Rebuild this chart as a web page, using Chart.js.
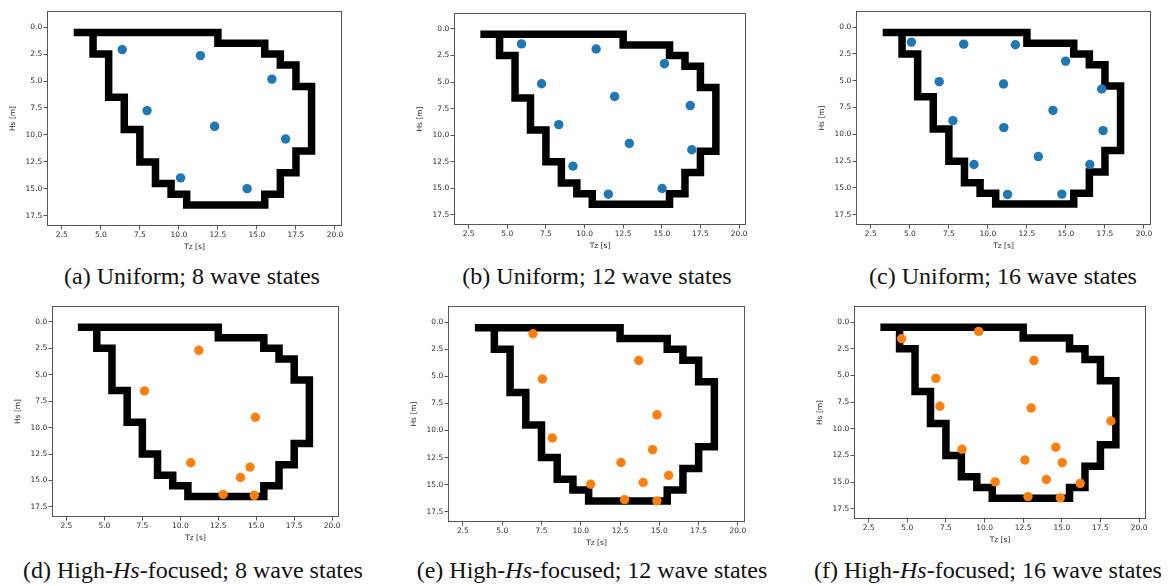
<!DOCTYPE html>
<html>
<head>
<meta charset="utf-8">
<title>Wave state selection</title>
<script src="https://cdn.jsdelivr.net/npm/chart.js@4.4.1/dist/chart.umd.min.js"></script>
<style>
  html, body { margin: 0; padding: 0; background: #fff; }
  #fig { position: relative; width: 1175px; height: 586px; overflow: hidden; }
  #fig canvas { position: absolute; }
  .caption {
    position: absolute; width: 440px; text-align: center; white-space: nowrap;
    font: 24px/24px 'Liberation Serif', 'Times New Roman', serif; color: #111;
  }
</style>
</head>
<body>
<div id="fig"></div>
<script>
'use strict';

// Tick values shared by every panel
const tzTicks = [2.5, 5.0, 7.5, 10.0, 12.5, 15.0, 17.5, 20.0];
const hsTicks = [0.0, 2.5, 5.0, 7.5, 10.0, 12.5, 15.0, 17.5];

// Stepped environmental contour (Tz, Hs vertices)
const contourTz = [3.5, 12.5, 12.5, 15.5, 15.5, 16.5, 16.5, 17.5, 17.5, 18.5, 18.5, 17.5, 17.5, 16.5, 16.5, 15.5,
                   15.5, 10.5, 10.5, 9.5, 9.5, 8.5, 8.5, 7.5, 7.5, 6.5, 6.5, 5.5, 5.5, 4.5, 4.5];
const contourHs = [0.5, 0.5, 1.5, 1.5, 2.5, 2.5, 3.5, 3.5, 5.5, 5.5, 11.5, 11.5, 13.5, 13.5, 15.5, 15.5,
                   16.5, 16.5, 15.5, 15.5, 14.5, 14.5, 12.5, 12.5, 9.5, 9.5, 6.5, 6.5, 2.5, 2.5, 0.5];

// Selected wave states
const uniform8Tz = [6.37, 11.38, 15.96, 7.96, 12.29, 16.84, 10.11, 14.37];
const uniform8Hs = [2.08, 2.64, 4.82, 7.74, 9.20, 10.38, 13.98, 14.98];

const uniform12Tz = [5.92, 10.75, 15.17, 7.22, 11.95, 16.84, 8.33, 12.90, 16.94, 9.25, 15.02, 11.54];
const uniform12Hs = [1.41, 1.89, 3.27, 5.16, 6.36, 7.21, 9.00, 10.77, 11.37, 12.91, 15.02, 15.55];

const uniform16Tz = [5.10, 8.45, 11.76, 14.98, 6.88, 11.00, 17.29, 14.17, 7.76, 11.02, 17.38, 13.23, 9.11, 16.53, 11.26, 14.74];
const uniform16Hs = [1.40, 1.59, 1.65, 3.17, 5.09, 5.31, 5.77, 7.76, 8.72, 9.37, 9.65, 12.07, 12.81, 12.81, 15.60, 15.57];

const highHs8Tz = [11.22, 7.64, 14.94, 10.69, 14.59, 13.96, 12.82, 14.87];
const highHs8Hs = [2.69, 6.54, 9.02, 13.32, 13.73, 14.72, 16.31, 16.40];

const highHs12Tz = [6.96, 13.69, 7.56, 14.85, 8.19, 14.57, 12.56, 15.59, 10.63, 13.97, 12.79, 14.85];
const highHs12Hs = [1.06, 3.53, 5.24, 8.55, 10.69, 11.77, 12.95, 14.15, 14.96, 14.80, 16.38, 16.50];

const highHs16Tz = [4.63, 9.62, 13.20, 6.85, 13.02, 7.11, 18.18, 8.54, 14.61, 12.61, 15.03, 14.00, 10.69, 16.19, 12.81, 14.90];
const highHs16Hs = [1.57, 0.88, 3.61, 5.28, 8.05, 7.89, 9.27, 11.92, 11.73, 12.92, 13.17, 14.75, 14.97, 15.12, 16.35, 16.47];

const BLUE = '#1f77b4';
const ORANGE = '#ff7f0e';

// plot frame (left, top, right, bottom) and caption placement for each panel
const panels = [
    { tz: uniform8Tz,  hs: uniform8Hs,  color: BLUE,   frame: [47, 11, 342, 226],   capX: 192, capY: 284,
      caption: '(a) Uniform; 8 wave states' },
    { tz: uniform12Tz, hs: uniform12Hs, color: BLUE,   frame: [454, 13, 746, 225],  capX: 597, capY: 284,
      caption: '(b) Uniform; 12 wave states' },
    { tz: uniform16Tz, hs: uniform16Hs, color: BLUE,   frame: [856, 11, 1151, 225], capX: 1003, capY: 284,
      caption: '(c) Uniform; 16 wave states' },
    { tz: highHs8Tz,   hs: highHs8Hs,   color: ORANGE, frame: [52, 306, 339, 517],  capX: 193, capY: 578,
      caption: '(d) High-<i>Hs</i>-focused; 8 wave states' },
    { tz: highHs12Tz,  hs: highHs12Hs,  color: ORANGE, frame: [448, 306, 745, 522], capX: 592, capY: 578,
      caption: '(e) High-<i>Hs</i>-focused; 12 wave states' },
    { tz: highHs16Tz,  hs: highHs16Hs,  color: ORANGE, frame: [854, 306, 1146, 519], capX: 988, capY: 578,
      caption: '(f) High-<i>Hs</i>-focused; 16 wave states' }
];

const Y_AXIS_W = 42;
const X_AXIS_H = 30;
const PAD = 6;

const tickFont = { family: "'DejaVu Sans', sans-serif", size: 7.5 };

// full box around the plotting area
const framePlugin = {
    id: 'frame',
    afterDatasetsDraw(chart) {
        const { ctx, chartArea: a } = chart;
        ctx.save();
        ctx.strokeStyle = '#555';
        ctx.lineWidth = 1;
        ctx.strokeRect(a.left + 0.5, a.top + 0.5, a.right - a.left - 1, a.bottom - a.top - 1);
        ctx.restore();
    }
};

function toPoints(xs, ys) {
    return xs.map(function(x, i) { return { x: x, y: ys[i] }; });
}

function makePanel(p) {
    const fig = document.getElementById('fig');
    const [L, T, R, B] = p.frame;

    const canvas = document.createElement('canvas');
    canvas.width = (R - L) + Y_AXIS_W + PAD;
    canvas.height = (B - T) + X_AXIS_H + PAD;
    canvas.style.left = (L - Y_AXIS_W) + 'px';
    canvas.style.top = (T - PAD) + 'px';
    fig.appendChild(canvas);

    const cap = document.createElement('div');
    cap.className = 'caption';
    cap.innerHTML = p.caption;
    cap.style.left = (p.capX - 220) + 'px';
    cap.style.top = (p.capY - 20) + 'px';
    fig.appendChild(cap);

    return new Chart(canvas.getContext('2d'), {
        type: 'scatter',
        data: {
            datasets: [
                {
                    data: toPoints(p.tz, p.hs),
                    backgroundColor: p.color,
                    borderWidth: 0,
                    pointRadius: 4.7,
                    order: 0
                },
                {
                    data: toPoints(contourTz, contourHs),
                    showLine: true,
                    borderColor: '#000',
                    borderWidth: 7.5,
                    borderCapStyle: 'square',
                    borderJoinStyle: 'miter',
                    pointRadius: 0,
                    fill: false,
                    order: 1
                }
            ]
        },
        options: {
            responsive: false,
            animation: false,
            devicePixelRatio: 1,
            layout: { padding: { top: PAD, right: PAD, left: 0, bottom: 0 } },
            plugins: { legend: { display: false }, tooltip: { enabled: false } },
            scales: {
                x: {
                    type: 'linear',
                    min: 1.55,
                    max: 20.45,
                    afterBuildTicks: function(s) { s.ticks = tzTicks.map(function(v) { return { value: v }; }); },
                    afterFit: function(s) { s.height = X_AXIS_H; },
                    ticks: {
                        callback: function(v) { return Number(v).toFixed(1); },
                        font: tickFont, color: '#2b2b2b', padding: 1.5, maxRotation: 0, autoSkip: false
                    },
                    grid: { drawOnChartArea: false, drawTicks: true, tickLength: 3.5, color: '#555' },
                    border: { display: false },
                    title: { display: true, text: 'Tz [s]', font: tickFont, color: '#2b2b2b', padding: { top: 0, bottom: 4 } }
                },
                y: {
                    type: 'linear',
                    reverse: true,
                    min: -1.5,
                    max: 18.45,
                    afterBuildTicks: function(s) { s.ticks = hsTicks.map(function(v) { return { value: v }; }); },
                    afterFit: function(s) { s.width = Y_AXIS_W; },
                    ticks: {
                        callback: function(v) { return Number(v).toFixed(1); },
                        font: tickFont, color: '#2b2b2b', padding: 1.2, autoSkip: false
                    },
                    grid: { drawOnChartArea: false, drawTicks: true, tickLength: 3.5, color: '#555' },
                    border: { display: false },
                    title: { display: true, text: 'Hs [m]', font: tickFont, color: '#2b2b2b', padding: { top: 3.5, bottom: 0 } }
                }
            }
        },
        plugins: [framePlugin]
    });
}

document.addEventListener('DOMContentLoaded', function() {
    if (typeof Chart === 'undefined') {
        console.error('Chart.js is not loaded!');
        return;
    }
    panels.forEach(makePanel);
});
</script>
</body>
</html>
